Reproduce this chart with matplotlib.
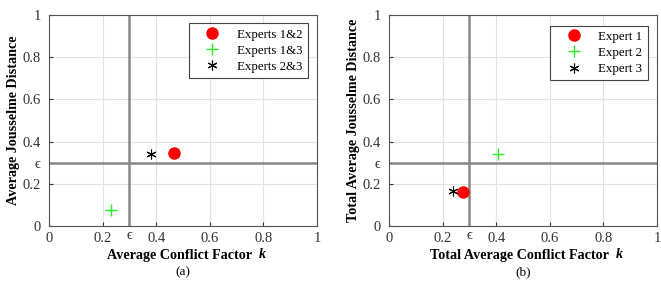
import matplotlib.pyplot as plt

plt.rcParams['font.family'] = ['Liberation Serif', 'DejaVu Serif']

# ---- data ----
eps = 0.3
labels_a = ['Experts 1&2', 'Experts 1&3', 'Experts 2&3']
k_a = [0.465, 0.23, 0.38]
d_a = [0.345, 0.075, 0.34]

labels_b = ['Expert 1', 'Expert 2', 'Expert 3']
k_b = [0.275, 0.405, 0.24]
d_b = [0.16, 0.34, 0.165]

ticks = [0, 0.2, eps, 0.4, 0.6, 0.8, 1]
tick_labels = ['0', '0.2', '\u03f5', '0.4', '0.6', '0.8', '1']

styles = [
    dict(marker='o', color='red', markersize=8, linestyle='none'),
    dict(marker='+', color='#22ee22', markersize=9, markeredgewidth=1.0, linestyle='none'),
    dict(marker=(6, 2, 0), color='black', markersize=7, markeredgewidth=0.8, linestyle='none'),
]

fig = plt.figure(figsize=(6.61, 2.86), dpi=100)
ax1 = fig.add_axes([0.0741, 0.2098, 0.4055, 0.7378])
ax2 = fig.add_axes([0.5885, 0.2098, 0.4055, 0.7378])


def style_axes(ax, ks, ds, labels, xlabel, ylabel, tag, legend_anchor):
    ax.set_xlim(0, 1)
    ax.set_ylim(0, 1)
    ax.set_xticks(ticks)
    ax.set_yticks(ticks)
    ax.set_xticklabels(tick_labels)
    ax.set_yticklabels(tick_labels)
    for lab in ax.get_xticklabels() + ax.get_yticklabels():
        if lab.get_text() == '\u03f5':
            lab.set_fontsize(7.5)
    ax.tick_params(direction='in', length=3, labelsize=10.5, colors='#333333')
    ax.tick_params(axis='x', pad=4)
    ax.tick_params(axis='y', pad=6)
    ax.grid(True, color='#e2e2e2', linewidth=0.8)
    ax.set_axisbelow(True)
    for sp in ax.spines.values():
        sp.set_color('#555555')
        sp.set_linewidth(0.8)
    ax.axvline(eps, color='#888888', linewidth=1.8, zorder=2)
    ax.axhline(eps, color='#888888', linewidth=1.8, zorder=2)
    for k, d, lab, st in zip(ks, ds, labels, styles):
        ax.plot([k], [d], label=lab, zorder=3, **st)
    ax.set_xlabel(xlabel + '  ', fontsize=10.2, fontweight='bold', labelpad=3)
    ax.set_ylabel(ylabel, fontsize=10.2, fontweight='bold', labelpad=2)
    ax.text(0.5, -0.218, tag, transform=ax.transAxes, ha='center',
            va='center', fontsize=9.5)
    leg = ax.legend(loc='upper right', bbox_to_anchor=legend_anchor,
                    fontsize=9.3, frameon=True, fancybox=False,
                    edgecolor='#444444', framealpha=1, borderpad=0.4,
                    labelspacing=0.32, handlelength=2.9, handletextpad=0.45,
                    borderaxespad=0)
    leg.get_frame().set_linewidth(0.8)


style_axes(ax1, k_a, d_a, labels_a, 'Average Conflict Factor',
           'Average Jousselme Distance', '(a)', (0.965, 0.96))
style_axes(ax2, k_b, d_b, labels_b, 'Total Average Conflict Factor',
           'Total Average Jousselme Distance', '(b)', (0.965, 0.95))

# raise the epsilon label on the x axis a little
for ax in (ax1, ax2):
    for lab in ax.get_xticklabels():
        if lab.get_text() == '\u03f5':
            lab.set_y(0.012)

# italic bold k after the x labels
fig.canvas.draw()
inv = fig.transFigure.inverted()
for ax in (ax1, ax2):
    bb = ax.xaxis.label.get_window_extent()
    x1, y0 = inv.transform((bb.x1, bb.y0))
    fig.text(x1, y0 + 0.002, 'k', fontsize=10.2, fontweight='bold',
             fontstyle='italic', ha='left', va='bottom')

plt.savefig('out.png', dpi=100)
